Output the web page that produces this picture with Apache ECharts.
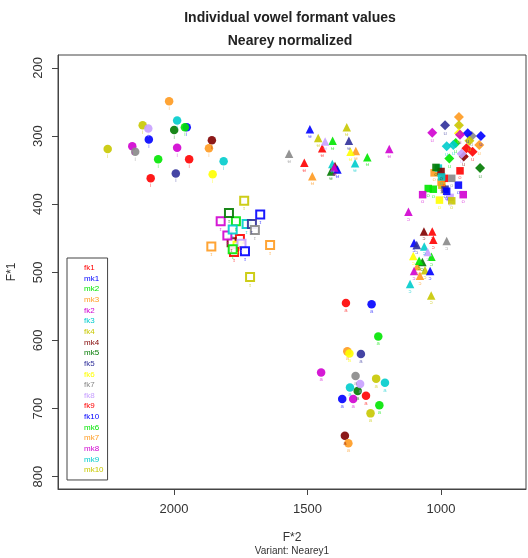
<!DOCTYPE html>
<html>
<head>
<meta charset="utf-8">
<script src="https://cdn.jsdelivr.net/npm/echarts@6/dist/echarts.min.js"></script>
<style>html,body{margin:0;padding:0;background:#fff}#c{width:528px;height:558px}</style>
</head>
<body>
<div id="c"></div>
<script>
// Speakers (legend order) and their colours
const speakers = ['fk1','mk1','mk2','mk3','fk2','fk3','fk4','mk4','mk5','fk5','fk6','fk7','fk8','fk9','fk10','mk6','mk7','mk8','mk9','mk10'];
const speakerColors = ['#FF0000','#0000FF','#00E600','#FF9A1F','#D000D0','#00CCCC','#C8C800','#800000','#007A00','#30309A','#FFFF00','#888888','#C8A0FF','#FF0000','#0000FF','#00E600','#FF9A1F','#D000D0','#00CCCC','#C8C800'];

// Vowel labels
const vowels = ['i','ɪ','ʉ','a','ɔ','u','o'];

// [F*2, F*1] per speaker (same order as speakers) for each vowel
const vowelI = [[2087,362],[2094,305],[2059,334],[2018,249],[2156,315],[1988,277],[2117,284],[1858,306],[1999,291],[1993,355],[1855,356],[2145,323],[2096,289],[1943,334],[1952,287],[1959,287],[1869,318],[1988,317],[1814,337],[2248,319]];
const vowelIh = [[1753,451],[1677,415],[1768,425],[1860,462],[1825,425],[1728,429],[1737,395],[1784,456],[1794,413],[1708,429],[1762,461],[1697,438],[1747,458],[1775,470],[1734,469],[1780,466],[1640,460],[1800,446],[1780,437],[1715,507]];
const vowelUu = [[1445,318],[1491,290],[1406,307],[1319,322],[1194,319],[1407,341],[1353,287],[1397,344],[1412,352],[1345,307],[1339,323],[1569,326],[1434,308],[1512,339],[1388,349],[1276,331],[1482,359],[1400,346],[1322,340],[1460,303]];
const vowelA = [[1356,545],[1260,547],[1235,594],[1351,616],[1449,647],[1210,662],[1243,656],[1360,740],[1312,674],[1300,620],[1343,619],[1320,652],[1303,664],[1281,681],[1370,686],[1231,695],[1347,751],[1329,686],[1341,669],[1264,707]];
const vowelO = [[1033,440],[1101,457],[1036,477],[1089,491],[1122,411],[1063,462],[1060,497],[1064,440],[1070,485],[1091,460],[1104,476],[979,454],[1050,470],[1029,452],[1041,498],[1082,483],[1079,505],[1101,498],[1116,517],[1037,534]];
const vowelU = [[882,323],[851,300],[945,310],[933,272],[1033,295],[979,315],[933,284],[915,330],[854,347],[985,284],[933,296],[885,300],[923,326],[905,318],[900,296],[969,333],[857,313],[929,298],[954,313],[894,307]];
const vowelOo = [[929,351],[935,372],[1048,377],[1026,354],[1069,386],[1010,347],[997,372],[1000,352],[1019,346],[985,378],[1006,394],[960,362],[966,390],[988,362],[979,381],[1029,378],[1000,368],[917,386],[998,360],[960,395]];

const vowelData = [vowelI, vowelIh, vowelUu, vowelA, vowelO, vowelU, vowelOo];

// Axis ticks
const xTicks = [1000, 1500, 2000];
const yTicks = [200, 300, 400, 500, 600, 700, 800];

// marker styles per vowel (style only)
const markerShapes = ['circle','emptyRect','triangle','circle','triangle','diamond','rect'];
const markerSizes = [8.5, 8, 8.5, 8.5, 8.5, 10, 7.5];

const FONT = 'Liberation Sans, Arial, Helvetica, sans-serif';

const series = speakers.map((name, si) => ({
  name: name,
  type: 'scatter',
  itemStyle: { color: speakerColors[si], borderWidth: 1.4, opacity: 0.9 },
  label: {
    show: true, position: 'bottom', distance: 0,
    fontSize: 6, fontFamily: FONT, color: speakerColors[si], opacity: 0.6,
    formatter: p => p.data.vowel
  },
  data: vowelData.map((g, vi) => ({
    value: g[si],
    vowel: vowels[vi],
    symbol: markerShapes[vi],
    symbolSize: markerSizes[vi]
  }))
}));

const chart = echarts.init(document.getElementById('c'), null, { renderer: 'canvas' });
chart.setOption({
  animation: false,
  textStyle: { fontFamily: FONT },
  title: [
    {
      text: 'Individual vowel formant values\nNearey normalized',
      left: 290, top: 7, textAlign: 'center', padding: 0,
      textStyle: { fontSize: 14, fontWeight: 'bold', color: '#222', lineHeight: 23, fontFamily: FONT }
    },
    {
      text: 'Variant: Nearey1',
      left: 292, top: 546, textAlign: 'center', padding: 0,
      textStyle: { fontSize: 10, fontWeight: 'normal', color: '#333', fontFamily: FONT }
    }
  ],
  grid: { left: 58, right: 2, top: 55, bottom: 69, containLabel: false, outerBoundsMode: 'none', show: true, borderColor: '#444', borderWidth: 1, backgroundColor: 'transparent' },
  legend: {
    orient: 'vertical', left: 67, top: 258,
    padding: [6, 4, 6, 12],
    itemWidth: 0, itemHeight: 8, itemGap: 2.63,
    icon: 'none',
    itemStyle: { opacity: 0 },
    borderColor: '#444', borderWidth: 1,
    selectedMode: false,
    textStyle: { fontSize: 8, lineHeight: 8, fontFamily: FONT },
    data: speakers.map((n, i) => ({ name: n, textStyle: { color: speakerColors[i] } }))
  },
  xAxis: {
    type: 'value', inverse: true, min: 682, max: 2434,
    name: 'F*2', nameLocation: 'middle', nameGap: 43,
    nameTextStyle: { fontSize: 12, color: '#333', fontFamily: FONT },
    splitLine: { show: false },
    axisLine: { show: true, lineStyle: { color: '#444' } },
    axisTick: { show: true, length: 6, customValues: xTicks, lineStyle: { color: '#444' } },
    axisLabel: { customValues: xTicks, margin: 14, fontSize: 13, color: '#333', fontFamily: FONT, formatter: v => String(v) }
  },
  yAxis: {
    type: 'value', inverse: true, min: 181, max: 818,
    name: 'F*1', nameLocation: 'middle', nameGap: 40, nameRotate: 90,
    nameTextStyle: { fontSize: 12, color: '#333', fontFamily: FONT },
    splitLine: { show: false },
    axisLine: { show: true, lineStyle: { color: '#444' } },
    axisTick: { show: true, length: 6, customValues: yTicks, lineStyle: { color: '#444' } },
    axisLabel: { customValues: yTicks, margin: 13, rotate: 90, fontSize: 13, color: '#333', fontFamily: FONT, formatter: v => String(v) }
  },
  series: series
});
</script>
</body>
</html>
